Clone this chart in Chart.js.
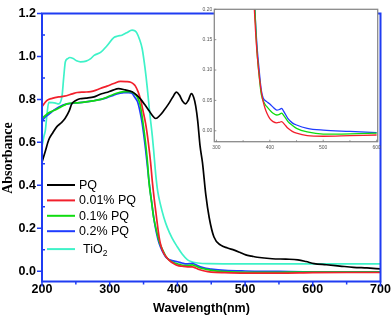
<!DOCTYPE html>
<html><head><meta charset="utf-8">
<script src="https://cdn.jsdelivr.net/npm/chart.js@4/dist/chart.umd.min.js"></script>
<style>
html,body{margin:0;padding:0;background:#fff;}
#wrap{position:relative;width:392px;height:319px;overflow:hidden;}
#main{position:absolute;left:0;top:0;}
#inset{position:absolute;left:200px;top:0;}
</style></head><body>
<div id="wrap"><canvas id="main" width="392" height="319"></canvas><canvas id="inset" width="186" height="156"></canvas></div>
<script>
// ---------- main panel data ----------
const pqX = [200,205,210,216,222,228,234,240,244,250,256,265,277,286,295,304,313,323,333,340,346,352,358,363,368,374,380,387,393,398.5,403,408,412,416,420.7,424,427,430,433.5,437,442,447,454,464,474,484,492,501,510,518,540,560,578,590,602,620,640,660,680,700];
const pqY = [0.507,0.56,0.612,0.645,0.673,0.69,0.711,0.745,0.779,0.795,0.803,0.806,0.812,0.824,0.832,0.842,0.85,0.844,0.836,0.82,0.80,0.775,0.748,0.725,0.711,0.725,0.748,0.779,0.81,0.834,0.82,0.79,0.779,0.795,0.827,0.81,0.77,0.70,0.582,0.507,0.355,0.249,0.159,0.121,0.108,0.098,0.088,0.076,0.07,0.065,0.058,0.056,0.053,0.045,0.035,0.03,0.024,0.018,0.015,0.011];

const pq001X = [200,207,215,225,233,245,252,262,272,280,286,296,306,316,324,331,335,338,342,345.6,349,353,357,360.4,363,366,368,373,376,380,385,390,395,400,407,415,422,427,432,440,450,470,500,550,600,650,700];
const pq001Y = [0.766,0.794,0.805,0.812,0.815,0.826,0.832,0.834,0.836,0.843,0.851,0.862,0.874,0.884,0.883,0.88,0.872,0.862,0.835,0.80,0.75,0.688,0.60,0.507,0.416,0.33,0.28,0.159,0.115,0.083,0.06,0.045,0.035,0.027,0.023,0.02,0.02,0.015,0.008,0.001,-0.004,-0.007,-0.009,-0.009,-0.007,-0.006,-0.006];

const pq01X = [200,205,210,217.5,225,237,250,262,275,287,296,306,314,321,331,336,341,345,348,353,356,358,362,365,369,373,378,383,388,394,400,406,413,418,422,427,434,442,450,470,500,550,600,650,700];
const pq01Y = [0.711,0.725,0.738,0.748,0.76,0.779,0.784,0.787,0.793,0.80,0.81,0.824,0.832,0.836,0.836,0.828,0.81,0.775,0.718,0.597,0.50,0.416,0.32,0.249,0.19,0.14,0.10,0.069,0.052,0.04,0.034,0.029,0.026,0.027,0.029,0.024,0.015,0.009,0.004,-0.002,-0.0055,-0.005,-0.004,-0.004,-0.004];

const pq02X = [200,205,210,217.5,225,237,250,262,275,287,296,306,314,321,328,333,337,341,345,348,353,356,358,362,365,369,373,378,383,387.5,394,400,407,413,418,422,427,434,442,450,470,500,550,600,650,700];
const pq02Y = [0.70,0.718,0.73,0.75,0.765,0.779,0.784,0.787,0.793,0.80,0.808,0.82,0.828,0.832,0.832,0.828,0.81,0.79,0.74,0.688,0.567,0.48,0.42,0.32,0.25,0.18,0.13,0.092,0.065,0.054,0.048,0.044,0.038,0.034,0.035,0.037,0.03,0.02,0.013,0.0095,0.004,0.001,-0.001,-0.003,-0.003,-0.003];

const tio2X = [200,203,205,207,210,215,220,224.6,229.6,232,234.5,238,241,246,251,257,265,272,277,287,296,306,312,318,325,333,337,340,344,348,352,355.5,359,363,365,368,371,375,380,385,392,400,407,415,422,430,445,500,600,700];
const tio2Y = [0.582,0.63,0.657,0.72,0.786,0.785,0.783,0.779,0.816,0.90,0.975,0.99,0.995,0.99,0.98,0.975,0.978,0.99,1.005,1.02,1.05,1.088,1.095,1.099,1.11,1.123,1.12,1.11,1.08,1.036,0.95,0.854,0.74,0.628,0.56,0.45,0.37,0.31,0.25,0.204,0.155,0.113,0.08,0.053,0.043,0.038,0.035,0.034,0.034,0.034];

const seriesNames = ['PQ','0.01% PQ','0.1% PQ','0.2% PQ','TiO2'];
const seriesColors = ['#000000','#f2202c','#10dc10','#1f3cff','#3ef2c8'];

const xTicks = [200,300,400,500,600,700];
const xMinor = [250,350,450,550,650];
const yTicks = [0.0,0.2,0.4,0.6,0.8,1.0,1.2];
const yMinor = [0.1,0.3,0.5,0.7,0.9,1.1];

// ---------- inset data ----------
const in001X = [366,371,375,379,383,387,391,395,400,406,413,418,422,427,434,442,450,470,500,550,600];
const in001Y = [0.30,0.2,0.14,0.10,0.07,0.05,0.037,0.028,0.02,0.015,0.013,0.014,0.015,0.011,0.004,-0.001,-0.004,-0.008,-0.009,-0.008,-0.007];
const in01X = [367,372,376,380,384,390,394,400,406,413,418,422,427,434,442,450,470,500,550,600];
const in01Y = [0.30,0.2,0.13,0.09,0.06,0.045,0.04,0.034,0.029,0.026,0.027,0.029,0.024,0.015,0.009,0.004,-0.002,-0.0055,-0.005,-0.004];
const in02X = [367,372,376,380,384,387.5,394,400,407,413,418,422,426,434,442,450,470,500,550,600];
const in02Y = [0.30,0.2,0.14,0.10,0.067,0.054,0.048,0.044,0.038,0.034,0.035,0.037,0.032,0.02,0.013,0.0095,0.004,0.001,-0.001,-0.003];
const inXTicks = [300,400,500,600];
const inXMinor = [350,450,550];
const inYTicks = [0.00,0.05,0.10,0.15,0.20];

const axisColor = '#1f3cf2';
const pts = (xs, ys) => xs.map((x, i) => ({x: x, y: ys[i]}));

function ds(label, color, xs, ys, w) {
  return {label: label, data: pts(xs, ys), borderColor: color, backgroundColor: color,
    borderWidth: w, pointRadius: 0, fill: false, tension: 0.3, cubicInterpolationMode: 'monotone'};
}

const framePlugin = {
  id: 'frame',
  afterDatasetsDraw(chart) {
    const {ctx, chartArea: a, scales: {x, y}} = chart;
    ctx.save();
    ctx.strokeStyle = axisColor;
    ctx.lineWidth = 2;
    ctx.strokeRect(a.left, a.top, a.right - a.left, a.bottom - a.top);
    ctx.lineWidth = 1.5;
    ctx.beginPath();
    xTicks.forEach(v => { const p = x.getPixelForValue(v); ctx.moveTo(p, a.bottom); ctx.lineTo(p, a.bottom + 5); });
    xMinor.forEach(v => { const p = x.getPixelForValue(v); ctx.moveTo(p, a.bottom); ctx.lineTo(p, a.bottom + 3); });
    yTicks.forEach(v => { const p = y.getPixelForValue(v); ctx.moveTo(a.left, p); ctx.lineTo(a.left - 5, p); });
    yMinor.forEach(v => { const p = y.getPixelForValue(v); ctx.moveTo(a.left, p); ctx.lineTo(a.left + 3, p); });
    ctx.stroke();
    // axis titles
    ctx.fillStyle = '#000';
    ctx.font = 'bold 12.5px "Liberation Sans", Arial, sans-serif';
    ctx.textAlign = 'center';
    ctx.textBaseline = 'middle';
    ctx.fillText('Wavelength(nm)', 201.5, 309);
    ctx.save();
    ctx.translate(8, 158);
    ctx.rotate(-Math.PI / 2);
    ctx.font = 'bold 14px "Liberation Serif", "Times New Roman", serif';
    ctx.fillText('Absorbance', 0, 0);
    ctx.restore();
    // legend
    ctx.font = '12.5px "Liberation Sans", Arial, sans-serif';
    ctx.textAlign = 'left';
    chart.data.datasets.forEach((d, i) => {
      let yy = 185 + i * 15.4 + (i === 4 ? 2.5 : 0);
      ctx.strokeStyle = d.borderColor;
      ctx.lineWidth = 2;
      ctx.beginPath(); ctx.moveTo(47, yy); ctx.lineTo(75, yy); ctx.stroke();
      ctx.fillStyle = '#000';
      if (d.label === 'TiO2') {
        ctx.fillText('TiO', 83, yy + 0.5);
        const w = ctx.measureText('TiO').width;
        ctx.font = '8.5px "Liberation Sans", Arial, sans-serif';
        ctx.fillText('2', 83 + w, yy + 5);
        ctx.font = '12.5px "Liberation Sans", Arial, sans-serif';
      } else {
        ctx.fillText(d.label, 79, yy + 0.5);
      }
    });
    ctx.restore();
  }
};

const tickFont = {family: '"Liberation Sans", Arial, sans-serif', size: 12.5, weight: 'bold'};

new Chart(document.getElementById('main'), {
  type: 'line',
  data: {datasets: [
    ds(seriesNames[0], seriesColors[0], pqX, pqY, 1.7),
    ds(seriesNames[1], seriesColors[1], pq001X, pq001Y, 1.7),
    ds(seriesNames[2], seriesColors[2], pq01X, pq01Y, 1.7),
    ds(seriesNames[3], seriesColors[3], pq02X, pq02Y, 1.7),
    ds(seriesNames[4], seriesColors[4], tio2X, tio2Y, 1.7)
  ]},
  options: {
    responsive: false, animation: false, devicePixelRatio: 1,
    layout: {padding: {top: 7, right: 11.5, left: 0, bottom: 0}},
    plugins: {legend: {display: false}, tooltip: {enabled: false}},
    scales: {
      x: {type: 'linear', min: 200, max: 700,
        afterBuildTicks: s => { s.ticks = xTicks.map(v => ({value: v})); },
        afterFit: s => { s.height = 37.5; },
        grid: {display: false, drawTicks: false}, border: {display: false},
        ticks: {font: tickFont, color: '#000', padding: 1, maxRotation: 0, callback: v => String(v)}},
      y: {type: 'linear', min: -0.048, max: 1.2,
        afterBuildTicks: s => { s.ticks = yTicks.map(v => ({value: v})); },
        afterFit: s => { s.width = 42; },
        grid: {display: false, drawTicks: false}, border: {display: false},
        ticks: {font: tickFont, color: '#000', padding: 6, callback: v => Number(v).toFixed(1)}}
    }
  },
  plugins: [framePlugin]
});

const insetPlugin = {
  id: 'insetFrame',
  beforeDatasetsDraw(chart) {
    const {ctx, chartArea: a} = chart;
    ctx.save();
    ctx.fillStyle = '#fff';
    ctx.fillRect(a.left, a.top, a.right - a.left, a.bottom - a.top);
    ctx.restore();
  },
  afterDatasetsDraw(chart) {
    const {ctx, chartArea: a, scales: {x, y}} = chart;
    ctx.save();
    ctx.strokeStyle = '#8a8a8a';
    ctx.lineWidth = 1.3;
    ctx.strokeRect(a.left, a.top, a.right - a.left, a.bottom - a.top);
    ctx.lineWidth = 0.8;
    ctx.strokeStyle = '#777';
    ctx.beginPath();
    inXTicks.forEach(v => { const p = x.getPixelForValue(v); ctx.moveTo(p, a.bottom); ctx.lineTo(p, a.bottom - 2); });
    inXMinor.forEach(v => { const p = x.getPixelForValue(v); ctx.moveTo(p, a.bottom); ctx.lineTo(p, a.bottom - 1.5); });
    inYTicks.forEach(v => { const p = y.getPixelForValue(v); ctx.moveTo(a.left, p); ctx.lineTo(a.left + 2, p); });
    ctx.stroke();
    ctx.restore();
  }
};

const inFont = {family: '"Liberation Sans", Arial, sans-serif', size: 5};

new Chart(document.getElementById('inset'), {
  type: 'line',
  data: {datasets: [
    ds(seriesNames[1], seriesColors[1], in001X, in001Y, 1.3),
    ds(seriesNames[2], seriesColors[2], in01X, in01Y, 1.3),
    ds(seriesNames[3], seriesColors[3], in02X, in02Y, 1.3)
  ]},
  options: {
    responsive: false, animation: false, devicePixelRatio: 1,
    layout: {padding: {top: 9.3, right: 8.3, left: 0, bottom: 0}},
    plugins: {legend: {display: false}, tooltip: {enabled: false}},
    scales: {
      x: {type: 'linear', min: 296, max: 602,
        afterBuildTicks: s => { s.ticks = inXTicks.map(v => ({value: v})); },
        afterFit: s => { s.height = 14.3; },
        grid: {display: false, drawTicks: false}, border: {display: false},
        ticks: {font: inFont, color: '#555', padding: 3, maxRotation: 0, callback: v => String(v)}},
      y: {type: 'linear', min: -0.018, max: 0.20,
        afterBuildTicks: s => { s.ticks = inYTicks.map(v => ({value: v})); },
        afterFit: s => { s.width = 14.3; },
        grid: {display: false, drawTicks: false}, border: {display: false},
        ticks: {font: inFont, color: '#555', padding: 2, callback: v => Number(v).toFixed(2)}}
    }
  },
  plugins: [insetPlugin]
});
</script>
</body></html>
